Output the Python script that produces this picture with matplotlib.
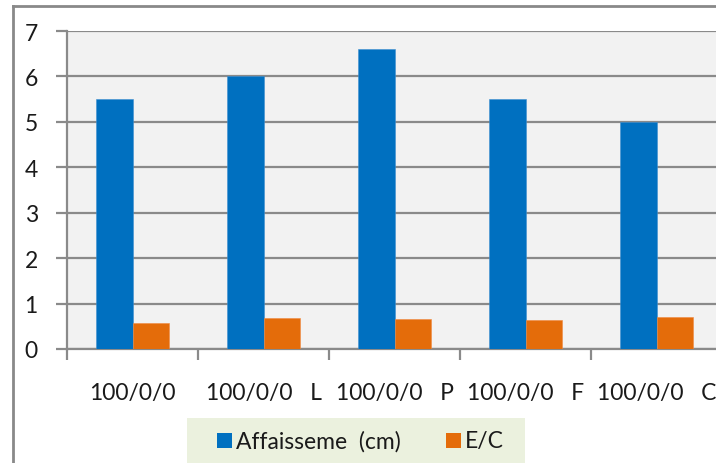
import matplotlib
matplotlib.use("Agg")
import matplotlib.pyplot as plt
from matplotlib.patches import Rectangle
from matplotlib.lines import Line2D
import numpy as np

categories = ["100/0/0", "100/0/0   L", "100/0/0   P", "100/0/0   F", "100/0/0   C"]
affaissement = [5.5, 6.0, 6.6, 5.5, 5.0]
e_sur_c = [0.57, 0.68, 0.67, 0.63, 0.70]
series_names = ["Affaisseme  (cm)", "E/C"]

BLUE = "#0070c0"
ORANGE = "#e46c0a"
GRID = "#8a8a8a"
FONT = "Lato"
FS = 16.5
TXT = "#1a1a1a"

W, H = 716, 464
fig = plt.figure(figsize=(W / 100, H / 100), dpi=100)
fig.patch.set_facecolor("white")

# plot area runs past the right edge of the image, like the original sheet crop
ax = fig.add_axes([67 / W, 1 - 350 / H, 655 / W, 318 / H])
ax.set_facecolor("#f2f2f2")

x = np.arange(len(categories))
bw = 0.282
ax.bar(x - bw / 2, affaissement, bw, color=BLUE, edgecolor="#3f8fd0", linewidth=0.4, zorder=3)
ax.bar(x + bw / 2, e_sur_c, bw, color=ORANGE, edgecolor="#f08a40", linewidth=0.4, zorder=3)

ax.set_xlim(-0.5, len(categories) - 0.5)
ax.set_ylim(0, 7)
ax.set_yticks(range(0, 8))
ax.grid(axis="y", color=GRID, linewidth=1.6, zorder=1)
ax.set_axisbelow(True)

# boundary ticks between groups, labels centred on the groups
ax.set_xticks(np.arange(-0.5, len(categories), 1.0))
ax.set_xticklabels([])
ax.set_xticks(x, minor=True)
ax.set_xticklabels(categories, minor=True, fontsize=FS, fontfamily=FONT, color=TXT)
ax.tick_params(axis="x", which="major", length=8, width=1.6, color=GRID, direction="out")
ax.tick_params(axis="x", which="minor", length=0, pad=24)
ax.tick_params(axis="y", length=8, width=1.6, color=GRID, pad=13, labelsize=FS)
for lab in ax.get_yticklabels():
    lab.set_fontfamily(FONT)
    lab.set_color(TXT)

for side in ("top", "right"):
    ax.spines[side].set_visible(False)
for side in ("left", "bottom"):
    ax.spines[side].set_color(GRID)
    ax.spines[side].set_linewidth(1.6)

# outer chart frame
fig.add_artist(Line2D([12.5 / W, 12.5 / W], [0, 1 - 7 / H], color="#898989", linewidth=2))
fig.add_artist(Line2D([12.5 / W, 1], [1 - 7 / H, 1 - 7 / H], color="#898989", linewidth=2))

# legend box, cut by the bottom edge
def fx(px):
    return px / W


def fy(py):
    return 1 - py / H


fig.add_artist(Rectangle((fx(187), fy(475)), fx(525) - fx(187), fy(419) - fy(475),
                         transform=fig.transFigure, facecolor="#ebf1de", edgecolor="none"))
for (mx, tx), name, col in zip([(217, 236), (446, 465)], series_names, [BLUE, ORANGE]):
    fig.add_artist(Rectangle((fx(mx), fy(449)), fx(mx + 15) - fx(mx), fy(434) - fy(449),
                             transform=fig.transFigure, facecolor=col, edgecolor="none"))
    fig.text(fx(tx), fy(441.5), name, ha="left", va="center", fontsize=FS,
             fontfamily=FONT, color=TXT)

fig.savefig("out.png", dpi=100)
